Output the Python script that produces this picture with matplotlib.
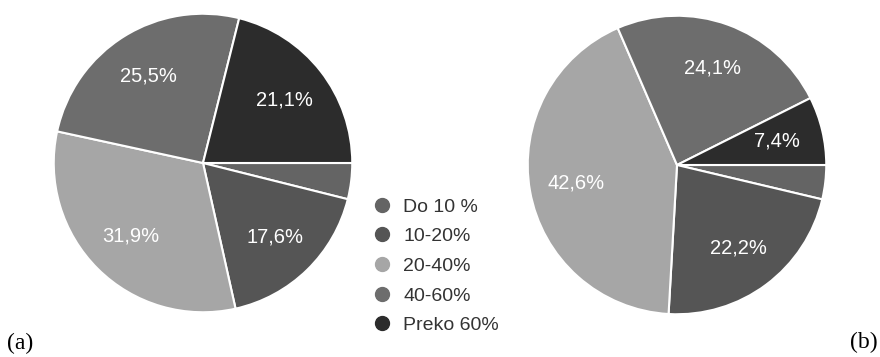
import numpy as np
import matplotlib
matplotlib.use('Agg')
import matplotlib.pyplot as plt
from matplotlib.lines import Line2D

# ── data ─────────────────────────────────────────────────────────────────────
categories = ['Do 10 %', '10-20%', '20-40%', '40-60%', 'Preko 60%']
values_a = [3.9, 17.6, 31.9, 25.5, 21.1]
values_b = [3.7, 22.2, 42.6, 24.1, 7.4]
colours = ['#646464', '#555555', '#a6a6a6', '#6d6d6d', '#2c2c2c']

plt.rcParams['font.family'] = ['Liberation Sans', 'DejaVu Sans']

fig = plt.figure(figsize=(8.8, 3.57), dpi=100)
W, H = 880, 357


def pie_axes(cx, cy, r):
    # pixel centre/radius (from top-left) -> figure fraction axes
    return fig.add_axes([(cx - r) / W, (H - cy - r) / H, 2 * r / W, 2 * r / H])


def fmt(v):
    return f'{v:.1f}%'.replace('.', ',')


def draw_pie(ax, vals):
    wedges, texts = ax.pie(vals, colors=colours, startangle=0, counterclock=False,
                           wedgeprops=dict(edgecolor='white', linewidth=1.5))
    for w, v in zip(wedges, vals):
        if v < 5:
            continue
        ang = np.deg2rad((w.theta1 + w.theta2) / 2)
        ax.text(0.69 * np.cos(ang), 0.69 * np.sin(ang), fmt(v), color='white',
                fontsize=14.5, ha='center', va='center')
    ax.set_xlim(-1.005, 1.005)
    ax.set_ylim(-1.005, 1.005)
    ax.set_aspect('equal')
    ax.axis('off')
    return wedges


ax_a = pie_axes(203, 163, 150)
draw_pie(ax_a, values_a)
ax_b = pie_axes(677, 165, 150)
draw_pie(ax_b, values_b)

# legend between the pies
handles = [Line2D([], [], linestyle='none', marker='o', markersize=10,
                  markerfacecolor=c, markeredgecolor=c) for c in colours]
fig.legend(handles, categories, loc='upper left',
           bbox_to_anchor=(372 / W, 1 - 198 / H), frameon=False,
           fontsize=14, labelspacing=0.62, handlelength=1.0,
           handletextpad=0.6, borderaxespad=0, borderpad=0,
           labelcolor='#333333')

fig.text(7 / W, 1 - 343 / H, '(a)', family='Liberation Serif', fontsize=17,
         ha='left', va='center')
fig.text(878 / W, 1 - 342 / H, '(b)', family='Liberation Serif', fontsize=17,
         ha='right', va='center')

fig.savefig('out.png', dpi=100)
